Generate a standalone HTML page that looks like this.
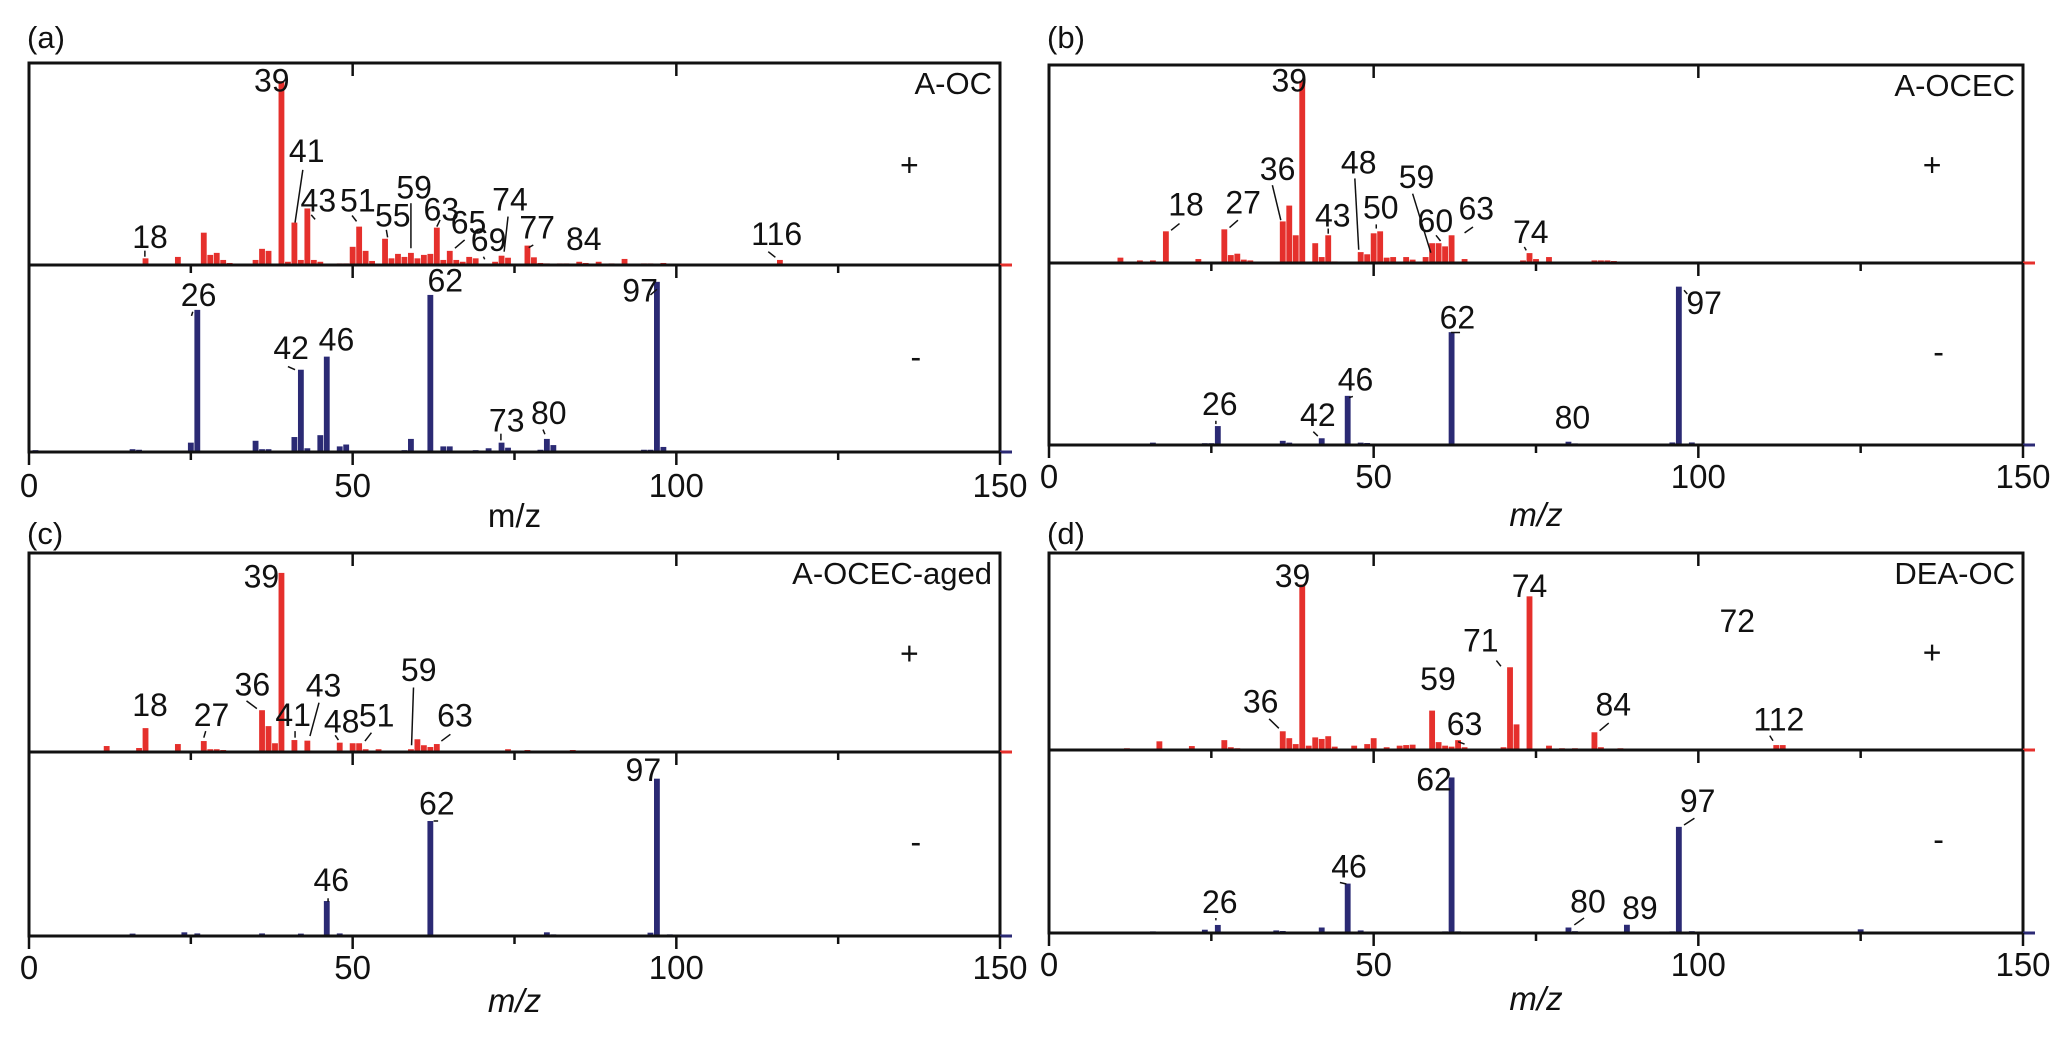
<!DOCTYPE html>
<html><head><meta charset="utf-8">
<style>
html,body{margin:0;padding:0;background:#fff;}
svg{display:block;}
text{font-family:"Liberation Sans",sans-serif;fill:#111;}
</style></head>
<body>
<svg id="chart" width="2067" height="1038" viewBox="0 0 2067 1038" xmlns="http://www.w3.org/2000/svg"></svg>
<script>
// ---------- data (m/z, relative intensity 0-100 of half-panel height) ----------
const xTicks = [0, 50, 100, 150];
const minorTicks = [25, 75, 125];
const sampleNames = ["A-OC", "A-OCEC", "A-OCEC-aged", "DEA-OC"];
const panelLetters = ["(a)", "(b)", "(c)", "(d)"];

const posA = [[12,0.6],[18,3.3],[23,4],[27,16],[28,5],[29,6],[30,2.5],[31,1],[35,2.5],[36,8],[37,7],[39,91],[40,1.6],[41,21],[42,2.5],[43,28],[44,2.5],[45,1.6],[48,0.8],[49,0.8],[50,9],[51,19],[52,7],[53,2],[55,13],[56,3.3],[57,5.5],[58,4],[59,6],[60,3.3],[61,5],[62,5.5],[63,18.5],[64,2.5],[65,7],[66,2.5],[67,1.6],[68,4],[69,3.3],[72,1.6],[73,4.6],[74,3.6],[77,9.6],[78,3.8],[79,1],[80,0.8],[82,0.8],[83,0.8],[85,1.6],[86,1],[88,1.6],[90,0.8],[92,3],[95,0.8],[96,0.8],[98,1],[104,0.5],[108,0.6],[110,0.6],[112,0.6],[116,2.5],[120,0.5],[125,0.5],[130,0.5],[135,0.5],[140,0.5]];
const negA = [[1,1],[16,1.5],[17,1.2],[25,5],[26,76],[35,6],[36,1.5],[37,1.5],[41,8],[42,44],[43,2],[45,9],[46,51],[48,3],[49,4],[58,1],[59,7],[62,84],[64,3],[65,3],[69,1],[71,2],[73,5],[74,2.3],[79,1.2],[80,7],[81,3.7],[84,0.8],[86,0.8],[88,0.8],[95,1.2],[96,1.2],[97,91],[98,2.7],[110,0.6],[120,0.5],[130,0.4],[140,0.4]];
const posB = [[11,2.7],[14,1.3],[16,1.3],[18,16],[23,2],[27,17],[28,4],[29,4.7],[30,1.7],[31,1.3],[36,21],[37,29],[38,14],[39,92],[41,10],[42,3],[43,14],[44,0.8],[48,5.5],[49,4.4],[50,15],[51,16],[52,2.7],[53,3],[55,3],[56,1.7],[58,3],[59,10],[60,10],[61,8.4],[62,14],[64,2],[68,0.5],[71,0.5],[73,1.3],[74,5],[75,2],[77,3],[84,1.3],[85,1.3],[86,1.3],[87,1],[95,0.4],[110,0.3],[130,0.3]];
const negB = [[16,1.3],[17,0.8],[24,1],[25,1],[26,10.4],[36,2.3],[37,1.3],[42,3.7],[46,27],[48,1.3],[49,1.1],[58,0.5],[62,62],[65,0.6],[80,1.8],[81,0.9],[96,1.4],[97,87],[99,1.4],[124,0.4]];
const posC = [[12,3],[17,2],[18,12],[23,4],[27,5.5],[28,1.4],[29,1.4],[30,1],[36,21],[37,13],[38,4.4],[39,90],[41,6],[43,5.7],[48,4.7],[50,4.4],[51,4.4],[52,1.4],[54,1.4],[59,1.4],[60,6.4],[61,3.4],[62,2.5],[63,4],[72,0.6],[74,1.4],[77,1],[84,1],[133,0.4]];
const negC = [[16,1.3],[24,2],[26,1.4],[36,1.4],[42,1.3],[43,0.6],[46,19],[48,1.4],[60,0.5],[62,62.5],[72,0.7],[80,2],[81,0.9],[96,1.8],[97,85.5],[99,0.9]];
const posD = [[12,0.9],[15,0.5],[17,4.4],[22,2],[27,5],[28,1.4],[29,0.9],[30,0.6],[36,9.5],[37,6],[38,3],[39,84],[40,2.2],[41,6.4],[42,5.6],[43,7],[44,1.7],[47,2.2],[49,3],[50,6],[52,1.4],[54,2.2],[55,2.5],[56,2.7],[59,20],[60,4],[61,2.2],[62,1.7],[63,5],[64,1.4],[66,0.5],[70,1.4],[71,42],[72,13],[74,78],[77,2.2],[79,0.9],[81,0.9],[84,9],[85,1.4],[87,0.7],[88,0.9],[89,0.6],[95,0.4],[100,0.4],[104,0.4],[112,2.5],[113,2.5],[116,0.4],[120,0.4],[128,0.4],[131,0.4]];
const negD = [[16,0.9],[24,1.8],[26,4.4],[35,1.4],[36,1.1],[42,3],[46,27],[48,1.4],[60,0.5],[61,0.9],[62,85],[63,0.9],[72,0.4],[74,0.4],[80,3],[81,1],[89,4.5],[96,0.9],[97,58],[99,1],[110,0.3],[125,2]];

// peak labels: [text, m/z centre, value at text baseline]
const labPosA = [["39",37.5,86],["41",42.9,51],["43",44.7,26.5],["51",50.8,26.5],["55",56.2,19],["59",59.5,33],["63",63.7,22],["65",67.9,15.7],["69",71,7],["74",74.3,27],["77",78.5,13],["84",85.7,7.4],["116",115.5,10],["18",18.7,8.3]];
const labNegA = [["26",26.2,78],["42",40.5,49.6],["46",47.5,54.3],["62",64.3,85.8],["73",73.8,11],["80",80.3,15],["97",94.4,80.4]];
const labPosB = [["39",37,86.5],["18",21.1,24],["27",29.9,25],["36",35.2,41.8],["43",43.7,18.5],["48",47.7,45.2],["50",51.1,22.4],["59",56.6,38],["60",59.5,15.7],["63",65.8,21.9],["74",74.2,10]];
const labNegB = [["26",26.3,16.5],["42",41.4,10.4],["46",47.2,30],["62",62.9,64],["80",80.6,9],["97",100.9,72]];
const labPosC = [["39",35.9,82.7],["18",18.7,18],["27",28.2,13],["36",34.5,28.5],["41",40.8,13],["43",45.5,28],["48",48.3,9.7],["51",53.7,12.8],["59",60.2,35.7],["63",65.8,12.8]];
const labNegC = [["46",46.7,24.5],["62",63,66],["97",94.9,84.2]];
const labPosD = [["39",37.5,82.7],["74",74,77.6],["72",106,60],["71",66.5,50],["59",59.9,30.5],["36",32.6,19],["63",64,7.6],["84",86.9,17.5],["112",112.4,9.8]];
const labNegD = [["26",26.3,11],["46",46.2,30.4],["62",59.3,77.8],["80",83,11.3],["89",91,7.7],["97",99.9,66]];

// leader lines: [m1, v1, m2, v2]
const leadPosA = [[42.3,47.1,41.1,21],[43.6,24.8,44.2,22.6],[49.9,24.5,50.6,21.6],[55.2,17.4,55.4,13.7],[59,30.6,59,8.3],[63.5,22.3,63,19],[67.3,12.4,65.8,8.3],[70.2,4.1,70.4,2.8],[74,24,73.4,6.6],[77.9,9.9,77.2,8.6],[114.2,6.6,115.3,3.8],[17.9,7.1,17.9,4.1]];
const leadNegA = [[25.3,75,25.1,72.8],[40,45.7,41.1,44],[72.9,9.8,72.9,6.2],[79.4,12,79.7,9.5],[96,84,97,87]];
const leadPosB = [[20.1,19.9,18.8,16.5],[29.1,21.6,27.8,17.9],[34.4,39.3,35.7,21.6],[43,17.4,43,14.8],[47.1,42.7,47.7,6.7],[50.4,19.5,50.4,17.4],[56,35,58.8,5.2],[59.6,14,60.3,11.1],[65.3,18.2,64,15.2],[73.2,8.1,73.5,6.4]];
const leadNegB = [[25.7,13.3,25.7,11.5],[40.7,7.3,41.4,4.9],[46.8,26.7,46.2,26],[61.9,61.8,63.3,61.8],[97.8,85,98.3,83]];
const leadPosC = [[27.3,10.5,27,7.2],[33.6,25.7,35.2,21.8],[41.1,10.5,41.1,7.2],[44.8,24.8,43.4,8],[47.3,8.4,47.8,6],[52.9,9.7,51.9,5.5],[59.4,32.4,59.1,3.4],[65.1,8.9,63.7,5.5]];
const leadNegC = [[46.2,20.5,46.2,18.6],[62.5,62.5,63.2,62.5]];
const leadPosD = [[68.9,45.4,69.6,42.5],[33.9,15.8,35.4,11],[63,4.2,64,3],[86.2,13.7,84.8,9.8],[111,7.3,111.5,4.7]];
const leadNegD = [[25.7,8.2,25.7,6.9],[44.8,27.6,45.8,26.8],[82.4,8.2,80.9,4.4],[99.4,62.7,97.8,59]];

const posData = [posA, posB, posC, posD];
const negData = [negA, negB, negC, negD];
const posLabels = [labPosA, labPosB, labPosC, labPosD];
const negLabels = [labNegA, labNegB, labNegC, labNegD];
const posLeads = [leadPosA, leadPosB, leadPosC, leadPosD];
const negLeads = [leadNegA, leadNegB, leadNegC, leadNegD];

// ---------- layout ----------
const geom = [
  {x0:29, x1:1000, top:63, mid:265, bot:452, letterY:48, tickY:497, mzY:527, italic:false},
  {x0:1049, x1:2023, top:65, mid:263, bot:445, letterY:48, tickY:488, mzY:526, italic:true},
  {x0:29, x1:1000, top:553, mid:752, bot:936, letterY:544, tickY:979, mzY:1012, italic:true},
  {x0:1049, x1:2023, top:553, mid:750, bot:933, letterY:544, tickY:976, mzY:1010, italic:true}
];
const RED = "#e5302c", NAVY = "#2b2a74";
const NS = "http://www.w3.org/2000/svg";
const svg = document.getElementById("chart");
function mk(tag, attrs, parent) {
  const el = document.createElementNS(NS, tag);
  for (const k in attrs) el.setAttribute(k, attrs[k]);
  (parent || svg).appendChild(el);
  return el;
}

geom.forEach((g, i) => {
  const grp = mk("g", {});
  
  
  const xs = m => g.x0 + (m / 150) * (g.x1 - g.x0);
  const yPos = v => g.mid - (v / 100) * (g.mid - g.top);
  const yNeg = v => g.bot - (v / 100) * (g.bot - g.mid);
  const bw = (g.x1 - g.x0) / 150 * 0.9;

  posData[i].forEach(([m, v]) => {
    const r = mk("rect", {x: xs(m) - bw / 2, y: yPos(v), width: bw, height: g.mid - yPos(v), fill: RED}, grp);
    
    
  });
  negData[i].forEach(([m, v]) => {
    const r = mk("rect", {x: xs(m) - bw / 2, y: yNeg(v), width: bw, height: g.bot - yNeg(v), fill: NAVY}, grp);
    
    
  });

  const frame = mk("rect", {x: g.x0, y: g.top, width: g.x1 - g.x0, height: g.bot - g.top, fill: "none", stroke: "#111", "stroke-width": 3}, grp);
  
  
  mk("line", {x1: g.x1, y1: g.mid, x2: g.x1 + 12, y2: g.mid, stroke: RED, "stroke-width": 3}, grp);
  mk("line", {x1: g.x1, y1: g.bot, x2: g.x1 + 12, y2: g.bot, stroke: NAVY, "stroke-width": 3}, grp);
  const midAxis = mk("line", {x1: g.x0, y1: g.mid, x2: g.x1, y2: g.mid, stroke: "#111", "stroke-width": 3}, grp);
  
  

  xTicks.forEach(t => {
    const x = xs(t);
    if (t > 0 && t < 150) mk("line", {x1: x, y1: g.top, x2: x, y2: g.top + 13, stroke: "#111", "stroke-width": 2.5}, grp);
    mk("line", {x1: x, y1: g.mid, x2: x, y2: g.mid + 13, stroke: "#111", "stroke-width": 2.5}, grp);
    mk("line", {x1: x, y1: g.bot, x2: x, y2: g.bot + 13, stroke: "#111", "stroke-width": 2.5}, grp);
    const tl = mk("text", {x: x, y: g.tickY, "font-size": 33, "text-anchor": "middle"}, grp);
    tl.textContent = t;
    
    
  });
  minorTicks.forEach(t => {
    const x = xs(t);
    mk("line", {x1: x, y1: g.mid, x2: x, y2: g.mid + 8, stroke: "#111", "stroke-width": 2.5}, grp);
    mk("line", {x1: x, y1: g.bot, x2: x, y2: g.bot + 8, stroke: "#111", "stroke-width": 2.5}, grp);
  });

  posLeads[i].forEach(([m1, v1, m2, v2]) => {
    mk("line", {x1: xs(m1), y1: yPos(v1), x2: xs(m2), y2: yPos(v2), stroke: "#111", "stroke-width": 1.5}, grp);
  });
  negLeads[i].forEach(([m1, v1, m2, v2]) => {
    mk("line", {x1: xs(m1), y1: yNeg(v1), x2: xs(m2), y2: yNeg(v2), stroke: "#111", "stroke-width": 1.5}, grp);
  });

  posLabels[i].forEach(([t, m, v]) => {
    const el = mk("text", {x: xs(m), y: yPos(v), "font-size": 32, "text-anchor": "middle"}, grp);
    el.textContent = t;
    
    
  });
  negLabels[i].forEach(([t, m, v]) => {
    const el = mk("text", {x: xs(m), y: yNeg(v), "font-size": 32, "text-anchor": "middle"}, grp);
    el.textContent = t;
    
    
  });

  const sn = mk("text", {x: g.x1 - 8, y: g.top + 31, "font-size": 31, "text-anchor": "end"}, grp);
  sn.textContent = sampleNames[i];
  
  
  const plus = mk("text", {x: xs(136), y: yPos(44), "font-size": 32, "text-anchor": "middle"}, grp);
  plus.textContent = "+";
  
  
  const minus = mk("text", {x: xs(137), y: yNeg(45), "font-size": 32, "text-anchor": "middle"}, grp);
  minus.textContent = "-";
  
  

  const pl = mk("text", {x: g.x0 - 2, y: g.letterY, "font-size": 31}, grp);
  pl.textContent = panelLetters[i];
  
  
  const mz = mk("text", {x: (g.x0 + g.x1) / 2, y: g.mzY, "font-size": 33, "text-anchor": "middle", "font-style": g.italic ? "italic" : "normal"}, grp);
  mz.textContent = "m/z";
  
  
});
</script>
</body></html>
